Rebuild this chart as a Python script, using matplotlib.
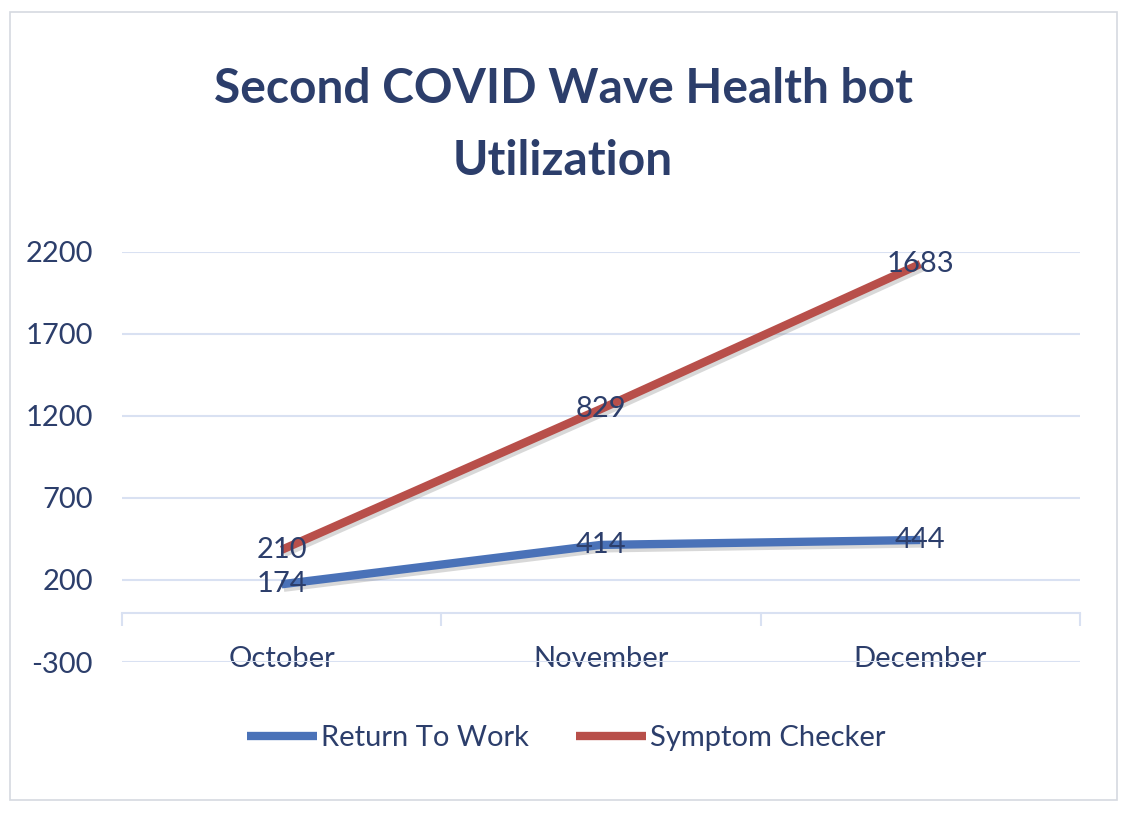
import numpy as np
import matplotlib
matplotlib.use('Agg')
import matplotlib.pyplot as plt
import matplotlib.patheffects as pe
from matplotlib.patches import Rectangle

plt.rcParams['font.family'] = ['Lato', 'DejaVu Sans']

# Data (stacked line chart)
months = ['October', 'November', 'December']
return_to_work = np.array([174, 414, 444])
symptom_checker = np.array([210, 829, 1683])
yticks = [-300, 200, 700, 1200, 1700, 2200]

text_col = '#2C3E6B'
grid_col = '#D9E1F2'
blue = '#4A72B8'
red = '#B84F4A'

fig = plt.figure(figsize=(11.32, 8.22), dpi=100)
fig.add_artist(Rectangle((10/1132, 22/822), 1107/1132, 788/822,
                         transform=fig.transFigure, fill=False,
                         edgecolor='#D5D9E0', linewidth=1.2))

ax = fig.add_axes([122/1132, 160/822, 958/1132, 410/822])
x = np.arange(len(months))

shadow = [pe.SimpleLineShadow(offset=(1.5, -2.5), shadow_color='gray', alpha=0.3), pe.Normal()]
stack1 = return_to_work
stack2 = return_to_work + symptom_checker
ax.plot(x, stack1, color=blue, lw=6, solid_capstyle='butt', label='Return To Work',
        path_effects=shadow, zorder=3)
ax.plot(x, stack2, color=red, lw=6, solid_capstyle='butt', label='Symptom Checker',
        path_effects=shadow, zorder=3)

for xi, y, v in zip(x, stack1, return_to_work):
    ax.text(xi, y, str(v), ha='center', va='center', fontsize=21, color=text_col, zorder=4)
for xi, y, v in zip(x, stack2, symptom_checker):
    ax.text(xi, y, str(v), ha='center', va='center', fontsize=21, color=text_col, zorder=4)

ax.set_xlim(-0.5, 2.5)
ax.set_ylim(-300, 2200)
ax.set_yticks(yticks)
ax.set_yticklabels([str(t) for t in yticks])
ax.grid(axis='y', color=grid_col, lw=1.5)
ax.set_axisbelow(True)
for s in ['top', 'right', 'left']:
    ax.spines[s].set_visible(False)
ax.spines['bottom'].set_position(('data', 0))
ax.spines['bottom'].set_color(grid_col)
ax.spines['bottom'].set_linewidth(1.5)
ax.tick_params(axis='y', length=0, pad=21, labelsize=21, labelcolor=text_col)
ax.set_xticks(x)
ax.set_xticklabels(months)
ax.tick_params(axis='x', which='major', length=0, pad=24, labelsize=21, labelcolor=text_col)
ax.set_xticks(np.arange(-0.5, 3.0, 1.0), minor=True)
ax.tick_params(axis='x', which='minor', length=9, width=1.5, color=grid_col, direction='out')

fig.text(563/1132, 1 - 125/822, 'Second COVID Wave Health bot\nUtilization', ha='center', va='center',
         fontsize=34.5, fontweight='bold', color=text_col, linespacing=1.8)

leg = fig.legend(loc='center', bbox_to_anchor=(566/1132, 1 - 738/822), ncol=2, frameon=False,
                 fontsize=21, labelcolor=text_col, handlelength=2.4, handletextpad=0.15,
                 columnspacing=1.6)
for h in leg.get_lines():
    h.set_linewidth(6)
    h.set_path_effects([])

fig.savefig('out.png', dpi=100)
